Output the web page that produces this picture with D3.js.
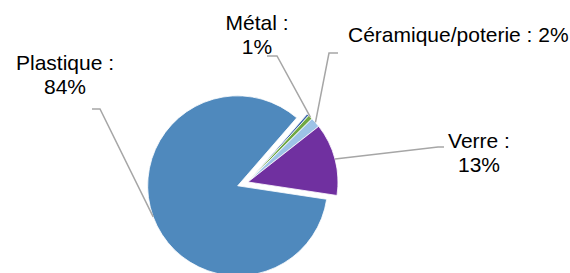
<!DOCTYPE html>
<html>
<head>
<meta charset="utf-8">
<script src="https://cdn.jsdelivr.net/npm/d3@7"></script>
<style>
  body { margin: 0; background: #fff; }
  text { font-family: "Liberation Sans", Arial, sans-serif; fill: #000; }
</style>
</head>
<body>
<div id="board"></div>
<script>
// data, in the drawing order (clockwise)
const categories = ["", "Métal", "Céramique/poterie", "Verre", "Plastique"];
const values = [0.4, 0.8, 1.8, 13.0, 84.0];
const percentLabels = ["", "1%", "2%", "13%", "84%"];
const colors = ["#3B64AA", "#70A843", "#9DC3E6", "#7030A0", "#4F89BD"];

const width = 570;
const height = 273;
const cx = 248, cy = 182, radius = 90;
const explodeIdx = 4, explodeBy = 11;

const svg = d3.create("svg")
    .attr("width", width)
    .attr("height", height);

const pie = d3.pie()
    .sort(null)
    .startAngle(41 * Math.PI / 180)
    .endAngle(41 * Math.PI / 180 + 2 * Math.PI);

const arcs = pie(values);
const arc = d3.arc().innerRadius(0).outerRadius(radius);

function offset(d, i) {
    if (i !== explodeIdx) return [0, 0];
    const a = (d.startAngle + d.endAngle) / 2;
    return [explodeBy * Math.sin(a), -explodeBy * Math.cos(a)];
}

// point on the outer edge at the middle of the slice
function edgePoint(d, i) {
    const a = (d.startAngle + d.endAngle) / 2;
    const o = offset(d, i);
    return [cx + o[0] + radius * Math.sin(a), cy + o[1] - radius * Math.cos(a)];
}

const g = svg.append("g");

g.selectAll("path")
    .data(arcs)
    .enter()
    .append("path")
    .attr("transform", (d, i) => {
        const o = offset(d, i);
        return `translate(${cx + o[0]},${cy + o[1]})`;
    })
    .attr("d", arc)
    .attr("fill", (d, i) => colors[i])
    .attr("stroke", "#fff")
    .attr("stroke-width", 0.8);

// label layout: text anchor position and elbow of the leader line
const layout = [
    null,
    { x: 257, y: 30, lines: 2, elbow: [[267, 56], [277, 56]] },
    { x: 348, y: 42, lines: 1, anchor: "start", elbow: [[338, 53], [329, 53]] },
    { x: 479, y: 148, lines: 2, elbow: [[444, 147], [438, 147]] },
    { x: 65, y: 70, lines: 2, elbow: [[92, 109], [100, 109]] }
];

const line = d3.line();

arcs.forEach((d, i) => {
    const L = layout[i];
    if (!L) return;
    svg.append("path")
        .attr("d", line([...L.elbow, edgePoint(d, i)]))
        .attr("fill", "none")
        .attr("stroke", "#A6A6A6")
        .attr("stroke-width", 1.5);

    const t = svg.append("text")
        .attr("x", L.x)
        .attr("y", L.y)
        .attr("font-size", "21px")
        .attr("text-anchor", L.anchor || "middle");
    if (L.lines === 2) {
        t.append("tspan").attr("x", L.x).text(categories[i] + " :");
        t.append("tspan").attr("x", L.x).attr("dy", 24).text(percentLabels[i]);
    } else {
        t.text(categories[i] + " : " + percentLabels[i]);
    }
});

document.getElementById("board").append(svg.node());
</script>
</body>
</html>
